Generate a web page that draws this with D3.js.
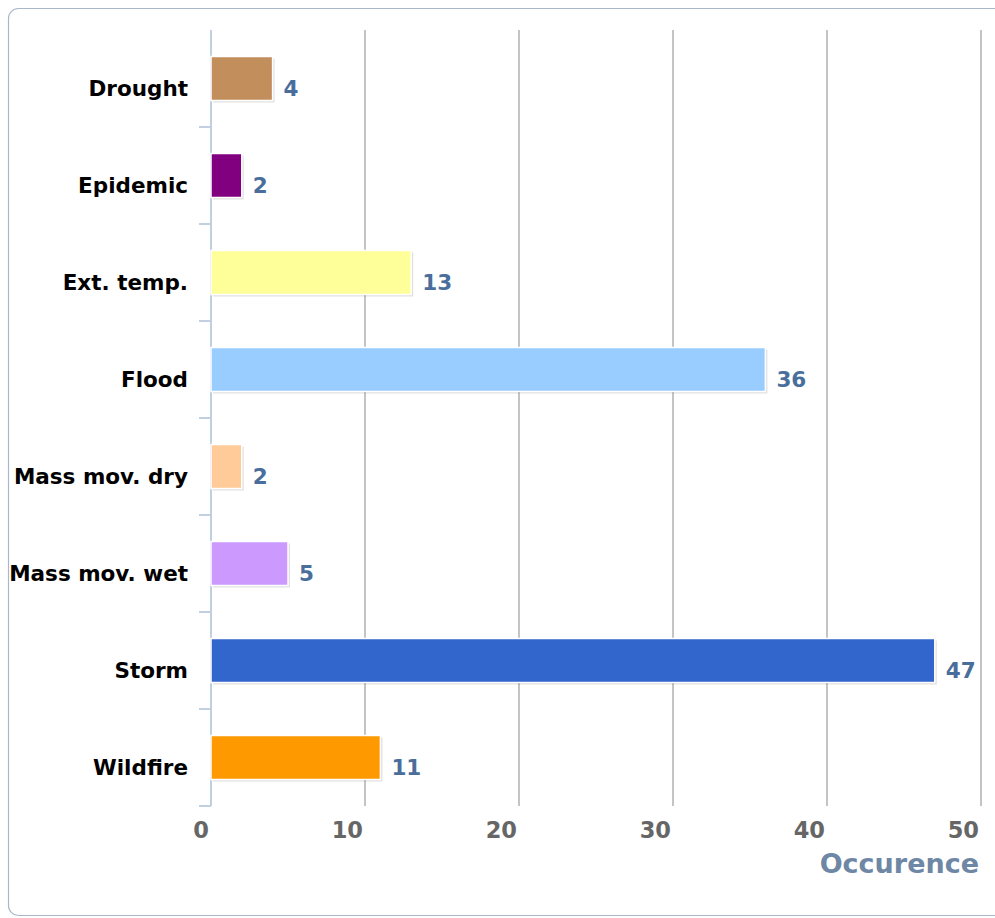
<!DOCTYPE html>
<html>
<head>
<meta charset="utf-8">
<script src="https://cdn.jsdelivr.net/npm/d3@7"></script>
<style>
  html, body { margin: 0; padding: 0; background: #fff; }
  svg { display: block; font-family: "DejaVu Sans", sans-serif; }
</style>
</head>
<body>
<svg id="chart" width="995" height="918"></svg>
<script>
var categories = ["Drought", "Epidemic", "Ext. temp.", "Flood", "Mass mov. dry", "Mass mov. wet", "Storm", "Wildfire"];
var occurrences = [4, 2, 13, 36, 2, 5, 47, 11];
var barColors = ["#c28e5c", "#800080", "#ffff99", "#99ccff", "#ffcc99", "#cc99ff", "#3366cc", "#ff9900"];
var xTicks = [0, 10, 20, 30, 40, 50];
var axisTitle = "Occurence";

var svg = d3.select("#chart");
var margin = {top: 30, left: 211, right: 14, bottom: 112};
var width = 995 - margin.left - margin.right,
    height = 918 - margin.top - margin.bottom;

// outer frame
svg.append("rect")
    .attr("x", 8.5).attr("y", 8.5)
    .attr("width", 1000).attr("height", 907)
    .attr("rx", 10).attr("ry", 10)
    .attr("fill", "#fff")
    .attr("stroke", "#a9b8c8")
    .attr("stroke-width", 1.2);

var g = svg.append("g").attr("transform", "translate(" + margin.left + "," + margin.top + ")");

var xScale = d3.scaleLinear().domain([0, 50]).range([0, width]);
var yScale = d3.scaleBand().domain(categories).range([0, height]);

// grid lines
g.selectAll(".grid").data(xTicks.slice(1)).enter().append("line")
    .attr("x1", function(d) { return xScale(d); })
    .attr("x2", function(d) { return xScale(d); })
    .attr("y1", 0).attr("y2", height)
    .attr("stroke", "#c4c4c4")
    .attr("stroke-width", 2);

// category axis line and ticks
g.append("line")
    .attr("x1", 0).attr("x2", 0).attr("y1", 0).attr("y2", height)
    .attr("stroke", "#c0d0e0").attr("stroke-width", 2);

var boundaries = categories.map(function(c) { return yScale(c); }).concat([height]);
g.selectAll(".ytick").data(boundaries.slice(1)).enter().append("line")
    .attr("x1", -12).attr("x2", 0)
    .attr("y1", function(d) { return d; })
    .attr("y2", function(d) { return d; })
    .attr("stroke", "#c0d0e0").attr("stroke-width", 2);

// category labels
g.selectAll(".ylabel").data(categories).enter().append("text")
    .attr("x", -23)
    .attr("y", function(d) { return yScale(d) + yScale.bandwidth() / 2 + 17.5; })
    .attr("text-anchor", "end")
    .attr("font-size", "21.5px")
    .attr("font-weight", "bold")
    .attr("fill", "#000")
    .text(function(d) { return d; });

// bars
var barH = 44;
var bars = g.selectAll(".bar").data(categories).enter().append("g");

bars.append("rect")
    .attr("x", 2)
    .attr("y", function(d) { return yScale(d) + (yScale.bandwidth() - barH) / 2 + 2; })
    .attr("width", function(d, i) { return xScale(occurrences[i]); })
    .attr("height", barH)
    .attr("fill", "#000")
    .attr("fill-opacity", 0.12);

bars.append("rect")
    .attr("x", 0)
    .attr("y", function(d) { return yScale(d) + (yScale.bandwidth() - barH) / 2; })
    .attr("width", function(d, i) { return xScale(occurrences[i]); })
    .attr("height", barH)
    .attr("fill", function(d, i) { return barColors[i]; })
    .attr("stroke", "#fff")
    .attr("stroke-width", 1.5);

// value labels
g.selectAll(".vlabel").data(categories).enter().append("text")
    .attr("x", function(d, i) { return xScale(occurrences[i]) + 11; })
    .attr("y", function(d) { return yScale(d) + yScale.bandwidth() / 2 + 17.5; })
    .attr("font-size", "21.5px")
    .attr("font-weight", "bold")
    .attr("fill", "#4a6e9c")
    .text(function(d, i) { return occurrences[i]; });

// x tick labels
g.selectAll(".xlabel").data(xTicks).enter().append("text")
    .attr("x", function(d) { return xScale(d) - 2; })
    .attr("y", height + 32)
    .attr("text-anchor", "end")
    .attr("font-size", "22.5px")
    .attr("font-weight", "bold")
    .attr("fill", "#666")
    .text(function(d) { return d; });

// axis title
g.append("text")
    .attr("x", width - 2)
    .attr("y", height + 67)
    .attr("text-anchor", "end")
    .attr("font-size", "27px")
    .attr("font-weight", "bold")
    .attr("fill", "#6d87a5")
    .text(axisTitle);
</script>
</body>
</html>
